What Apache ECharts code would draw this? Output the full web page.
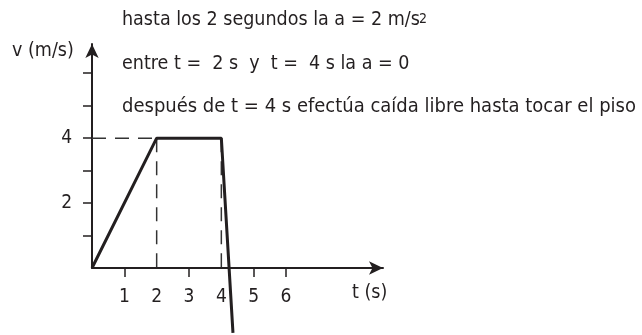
<!DOCTYPE html>
<html>
<head>
<meta charset="utf-8">
<script src="https://cdn.jsdelivr.net/npm/echarts@6/dist/echarts.min.js"></script>
<style>
html, body { margin: 0; padding: 0; background: #fff; }
#chart { width: 642px; height: 335px; }
</style>
</head>
<body>
<div id="chart"></div>
<script>
// datos de la gráfica v-t
var velocidad = [[0, 0], [2, 4], [4, 4], [4.36, -2]];
var guiaH4 = [[0, 4], [2, 4]];
var guiaV2 = [[2, 4], [2, 0]];
var guiaV4 = [[4, 4], [4, 0]];
var ticksX = [1, 3, 5, 6];
var etiquetasX = [1, 2, 3, 4, 5, 6];
var ticksY = [1, 2, 3, 4, 5, 6];
var etiquetasY = [2, 4];
var textos = [
    'hasta los 2 segundos la a = 2 m/s',
    'entre t =  2 s  y  t =  4 s la a = 0',
    'después de t = 4 s efectúa caída libre hasta tocar el piso'
];

var fuente = "'Liberation Sans Narrow', 'DejaVu Sans Condensed', 'Roboto', sans-serif";
var tinta = '#231f20';

var chart = echarts.init(document.getElementById('chart'));

function guia(data) {
    return {
        type: 'line',
        data: data,
        symbol: 'none',
        silent: true,
        lineStyle: { color: '#333', width: 1.5, type: [14, 9] },
        z: 1
    };
}

chart.setOption({
    animation: false,
    grid: { left: 92, right: 259, top: 44, bottom: 67, outerBoundsMode: 'none', containLabel: false },
    xAxis: {
        type: 'value',
        min: 0,
        max: 9,
        splitLine: { show: false },
        axisLine: {
            symbol: ['none', 'arrow'],
            symbolSize: [10, 14],
            lineStyle: { color: tinta, width: 2 }
        },
        axisTick: {
            show: true,
            customValues: ticksX,
            length: 9,
            lineStyle: { color: tinta, width: 1.5 }
        },
        axisLabel: {
            customValues: etiquetasX,
            margin: 20,
            color: tinta,
            fontSize: 19,
            fontFamily: fuente
        }
    },
    yAxis: {
        type: 'value',
        min: 0,
        max: 6.9,
        splitLine: { show: false },
        axisLine: {
            symbol: ['none', 'arrow'],
            symbolSize: [10, 14],
            lineStyle: { color: tinta, width: 2 }
        },
        axisTick: {
            show: true,
            customValues: ticksY,
            length: 9,
            lineStyle: { color: tinta, width: 1.5 }
        },
        axisLabel: {
            customValues: etiquetasY,
            margin: 20,
            color: tinta,
            fontSize: 19,
            fontFamily: fuente
        }
    },
    series: [
        guia(guiaH4),
        guia(guiaV2),
        guia(guiaV4),
        {
            type: 'line',
            data: velocidad,
            symbol: 'none',
            clip: false,
            lineStyle: { color: tinta, width: 3 },
            z: 3
        }
    ],
    graphic: [
        { type: 'text', left: 122, top: 10, style: { text: textos[0], font: '19.5px ' + fuente, fill: tinta } },
        { type: 'text', left: 419, top: 12, style: { text: '2', font: '14px ' + fuente, fill: tinta } },
        { type: 'text', left: 122, top: 54, style: { text: textos[1], font: '19.5px ' + fuente, fill: tinta } },
        { type: 'text', left: 122, top: 97, style: { text: textos[2], font: '20px ' + fuente, fill: tinta } },
        { type: 'text', left: 12, top: 41, style: { text: 'v (m/s)', font: '19.5px ' + fuente, fill: tinta } },
        { type: 'text', left: 352, top: 283, style: { text: 't (s)', font: '19.5px ' + fuente, fill: tinta } }
    ]
});
</script>
</body>
</html>
